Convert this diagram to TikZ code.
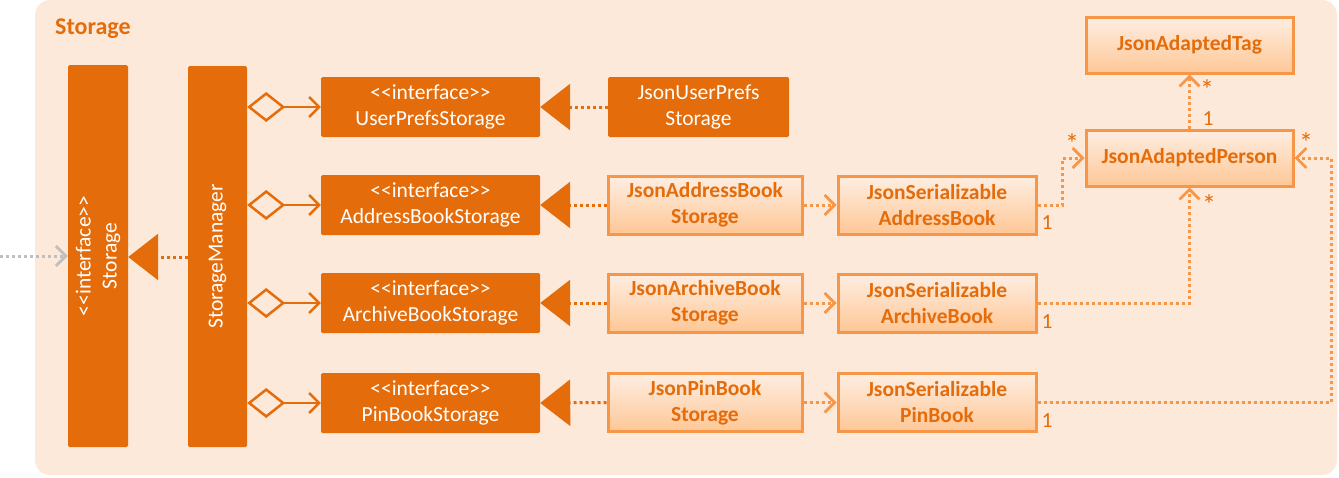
\documentclass[tikz,border=0pt]{standalone}
\usepackage{fontspec}
\setmainfont{Carlito}[Ligatures=TeXOff]
\usetikzlibrary{arrows.meta}
\definecolor{dk}{HTML}{E46C0A}
\definecolor{lt}{HTML}{F79646}
\definecolor{bg}{HTML}{FDE9D9}
\definecolor{gtop}{HTML}{FEEEE2}
\definecolor{gbot}{HTML}{FEC796}
\definecolor{gr}{HTML}{BFBFBF}
\begin{document}
\begin{tikzpicture}[x=1pt,y=-1pt,
  every node/.style={font=\fontsize{21.5}{26}\selectfont, inner sep=0pt},
  darkbox/.style={fill=dk, text=white, rounded corners=1.5pt, align=center},
  litebox/.style={draw=lt, line width=3pt, top color=gtop, bottom color=gbot, text=dk,
    font=\fontsize{21.5}{26}\selectfont\bfseries, align=center},
  agg/.style={draw=dk, line width=2.5pt,
    arrows={Diamond[open,length=38pt,width=30pt,line width=2.5pt]-Straight Barb[length=10pt,width=20pt,line width=2.5pt]}},
  real/.style={draw=dk, line width=3pt, dash pattern=on 3pt off 3pt,
    arrows={-Triangle[length=30pt,width=46pt,fill=dk]}},
  dep/.style={draw=lt, line width=3pt, dash pattern=on 3pt off 3pt,
    arrows={-Straight Barb[length=10pt,width=20pt,line width=2.8pt]}},
  mult/.style={text=dk, anchor=base},
  star/.style={text=dk, anchor=base, font=\fontsize{28}{28}\selectfont}]
\useasboundingbox (0,0) rectangle (1339,477);
\fill[bg, rounded corners=15pt] (35,0) rectangle (1337,475);
\node[anchor=west, text=dk, font=\fontsize{24}{28}\selectfont\bfseries] (title) at (55,29) {Storage};

% left column
\node[darkbox, minimum width=60pt, minimum height=382pt,
  label={[rotate=90, text=white, align=center]center:{<<interface>>\\Storage}}] (storage) at (98,256) {};
\node[darkbox, minimum width=59pt, minimum height=381pt,
  label={[rotate=90, text=white]center:{StorageManager}}] (mgr) at (217.5,256.5) {};

% interfaces
\node[darkbox, minimum width=219pt, minimum height=60pt] (ups) at (430.5,107) {<<interface>>\\UserPrefsStorage};
\node[darkbox, minimum width=219pt, minimum height=60pt] (abs) at (430.5,205) {<<interface>>\\AddressBookStorage};
\node[darkbox, minimum width=219pt, minimum height=60pt] (arbs) at (430.5,303) {<<interface>>\\ArchiveBookStorage};
\node[darkbox, minimum width=219pt, minimum height=60pt] (pbs) at (430.5,403) {<<interface>>\\PinBookStorage};

% storages
\node[darkbox, minimum width=181pt, minimum height=60pt] (jups) at (698.5,107) {JsonUserPrefs\\Storage};
\node[litebox, minimum width=194pt, minimum height=58pt] (jabs) at (705,205) {JsonAddressBook\\Storage};
\node[litebox, minimum width=194pt, minimum height=58pt] (jarbs) at (705,303) {JsonArchiveBook\\Storage};
\node[litebox, minimum width=194pt, minimum height=58pt] (jpbs) at (705,402.5) {JsonPinBook\\Storage};

% serializables
\node[litebox, minimum width=198pt, minimum height=58pt] (jsab) at (937,205) {JsonSerializable\\AddressBook};
\node[litebox, minimum width=198pt, minimum height=58pt] (jsarb) at (937,303) {JsonSerializable\\ArchiveBook};
\node[litebox, minimum width=198pt, minimum height=58pt] (jspb) at (937,402.5) {JsonSerializable\\PinBook};

% adapted
\node[litebox, minimum width=207pt, minimum height=56pt] (tag) at (1189.5,45) {JsonAdaptedTag};
\node[litebox, minimum width=207pt, minimum height=56pt] (person) at (1189.5,158) {JsonAdaptedPerson};

% connectors
\coordinate (ext) at (0,256);
\draw[draw=gr, line width=3pt, dash pattern=on 3pt off 3pt,
  arrows={-Straight Barb[length=10pt,width=20pt,line width=2.8pt]}] (ext) -- (storage.west |- ext);
\draw[real] (mgr.west |- 0,257) -- (storage.east |- 0,257);

\draw[agg] (mgr.east |- ups) -- (ups.west);
\draw[agg] (mgr.east |- abs) -- (abs.west);
\draw[agg] (mgr.east |- arbs) -- (arbs.west);
\draw[agg] (mgr.east |- pbs) -- (pbs.west);

\draw[real] (jups.west) -- (ups.east);
\draw[real] (jabs.west) -- (abs.east);
\draw[real] (jarbs.west) -- (arbs.east);
\draw[real] (jpbs.west) -- (pbs.east);

\draw[dep] (jabs.east) -- (jsab.west);
\draw[dep] (jarbs.east) -- (jsarb.west);
\draw[dep] (jpbs.east) -- (jspb.west);

\coordinate (c1) at (1062,205);
\coordinate (c3) at (1331,402.5);
\draw[dep] (jsab.east) -- (c1) |- (person.west);
\draw[dep] (jsarb.east) -| (person.south);
\draw[dep] (jspb.east) -- (c3) |- (person.east);
\draw[dep] (person.north) -- (tag.south);

% multiplicities
\node[star] (m1) at (1207,99) {*};
\node[mult] (m2) at (1208,125) {1};
\node[star] (m3) at (1072,153) {*};
\node[star] (m4) at (1306,152) {*};
\node[star] (m5) at (1209,214) {*};
\node[mult] (m6) at (1047,229) {1};
\node[mult] (m7) at (1047,328) {1};
\node[mult] (m8) at (1047,427) {1};
\end{tikzpicture}
\end{document}
